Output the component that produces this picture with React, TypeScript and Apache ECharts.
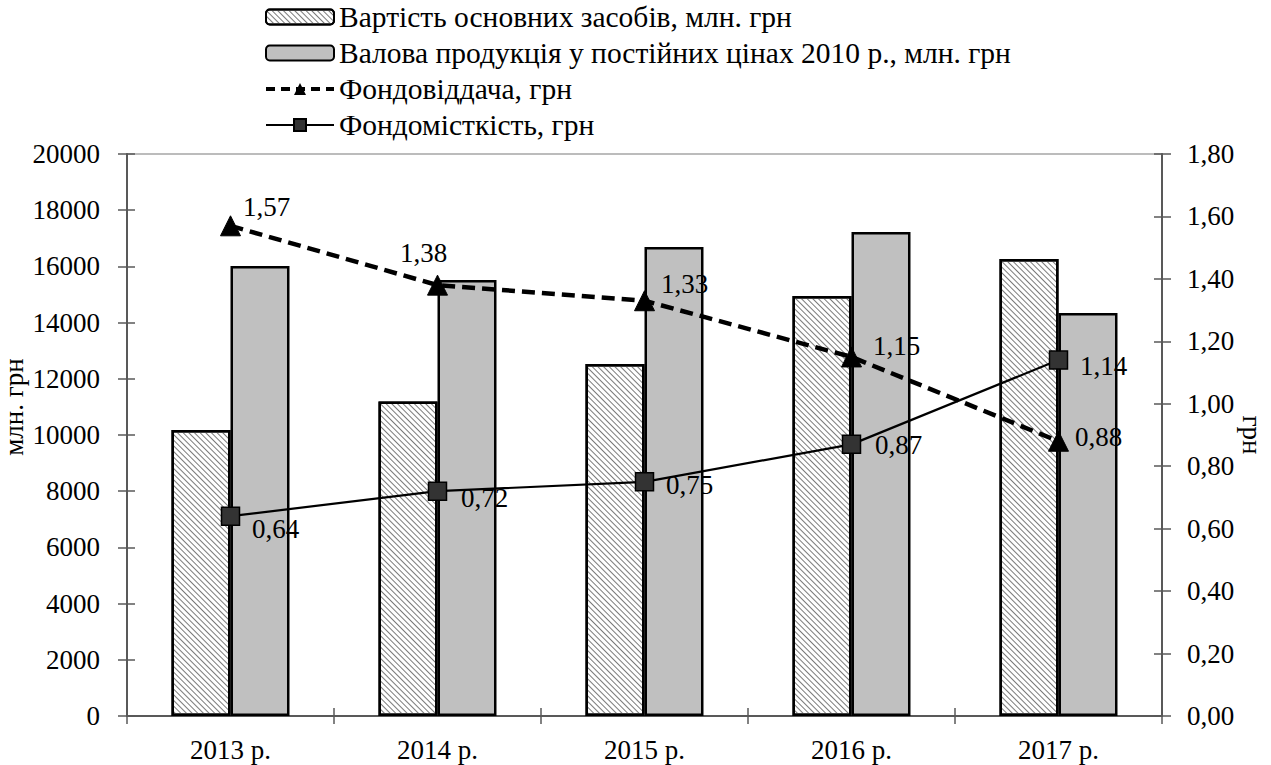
import React, { useEffect, useRef } from "react";
import * as echarts from "echarts";

const categories = ["2013 р.", "2014 р.", "2015 р.", "2016 р.", "2017 р."];
const fixedAssets = [10180, 11190, 12530, 14950, 16260];
const grossOutput = [16010, 15520, 16690, 17220, 14340];
const assetReturn = [1.57, 1.38, 1.33, 1.15, 0.88];
const capitalIntensity = [0.64, 0.72, 0.75, 0.87, 1.14];

const seriesNames = [
  "Вартість основних засобів, млн. грн",
  "Валова продукція у постійних цінах 2010 р., млн. грн",
  "Фондовіддача, грн",
  "Фондомісткість, грн",
];
const leftAxisName = "млн. грн";
const rightAxisName = "грн";

// label placement (style only)
const returnLabelOffsets = [
  [36, -19],
  [-14, -32],
  [40, -17],
  [45, -11],
  [40, -4],
];
const intensityLabelOffsets = [
  [45, 13],
  [47, 7],
  [45, 3],
  [47, 1],
  [45, 6],
];

const FONT = "Liberation Serif";
const fmt = (v: number) => v.toFixed(2).replace(".", ",");

export default function App() {
  const ref = useRef<HTMLDivElement>(null);
  useEffect(() => {
    if (!ref.current) return;
    const chart = echarts.init(ref.current, undefined, { renderer: "svg" });
    const axisColor = "#595959";
    const tickFont = { fontFamily: FONT, fontSize: 27, color: "#000" };
    const baseY = (pos: "left" | "right") => ({
      type: "value" as const,
      position: pos,
      splitLine: { show: false },
    });
    const labelCommon = {
      show: true,
      position: "inside",
      formatter: (p: any) => fmt(p.value),
      fontFamily: FONT,
      fontSize: 27,
      color: "#000",
    };
    chart.setOption({
      animation: false,
      backgroundColor: "#fff",
      textStyle: { fontFamily: FONT },
      grid: {
        left: 127,
        right: 109,
        top: 154,
        bottom: 49,
        outerBoundsMode: "none",
        containLabel: false,
        show: true,
        borderColor: "#a6a6a6",
        borderWidth: 1.5,
        backgroundColor: "transparent",
      },
      legend: {
        orient: "vertical",
        left: 264,
        top: 2,
        padding: 0,
        itemWidth: 68,
        itemHeight: 15,
        itemGap: 6,
        textStyle: { fontFamily: FONT, fontSize: 29.5, color: "#000", lineHeight: 27 },
        data: [
          { name: seriesNames[0] },
          { name: seriesNames[1] },
          { name: seriesNames[2], lineStyle: { width: 4, type: [9, 6], color: "#000" } },
          { name: seriesNames[3], lineStyle: { width: 2.2, color: "#000" } },
        ],
      },
      xAxis: [
        {
          type: "category",
          data: categories,
          position: "bottom",
          axisLine: { lineStyle: { color: axisColor, width: 2 } },
          axisTick: { show: true, inside: false, length: 8, lineStyle: { color: axisColor, width: 1.5 } },
          axisLabel: { ...tickFont, margin: 20 },
        },
        {
          type: "category",
          data: categories,
          position: "bottom",
          axisLine: { show: false },
          axisTick: { show: true, inside: true, length: 8, lineStyle: { color: axisColor, width: 1.5 } },
          axisLabel: { show: false },
        },
      ],
      yAxis: [
        {
          ...baseY("left"),
          min: 0,
          max: 20000,
          interval: 2000,
          name: leftAxisName,
          nameLocation: "middle",
          nameGap: 100,
          nameRotate: 90,
          nameMoveOverlap: false,
          nameTextStyle: { fontFamily: FONT, fontSize: 27, color: "#000", padding: [0, 0, 0, 56] },
          axisLine: { show: true, lineStyle: { color: axisColor, width: 2 } },
          axisTick: { show: true, inside: false, length: 9, lineStyle: { color: axisColor, width: 1.5 } },
          axisLabel: { ...tickFont, margin: 27, formatter: (v: number) => String(v) },
        },
        {
          ...baseY("right"),
          min: 0,
          max: 1.8,
          interval: 0.2,
          name: rightAxisName,
          nameLocation: "middle",
          nameGap: 76,
          nameRotate: -90,
          nameMoveOverlap: false,
          nameTextStyle: { fontFamily: FONT, fontSize: 27, color: "#000" },
          axisLine: { show: true, lineStyle: { color: axisColor, width: 2 } },
          axisTick: { show: true, inside: false, length: 9, lineStyle: { color: axisColor, width: 1.5 } },
          axisLabel: { ...tickFont, margin: 25, formatter: (v: number) => fmt(v) },
        },
        {
          ...baseY("left"),
          min: 0,
          max: 20000,
          interval: 2000,
          offset: 0,
          axisLine: { show: false },
          axisTick: { show: true, inside: true, length: 8, lineStyle: { color: axisColor, width: 1.5 } },
          axisLabel: { show: false },
        },
        {
          ...baseY("right"),
          min: 0,
          max: 1.8,
          interval: 0.2,
          offset: 0,
          axisLine: { show: false },
          axisTick: { show: true, inside: true, length: 8, lineStyle: { color: axisColor, width: 1.5 } },
          axisLabel: { show: false },
        },
      ],
      series: [
        {
          name: seriesNames[0],
          type: "bar",
          xAxisIndex: 0,
          yAxisIndex: 0,
          data: fixedAssets,
          barGap: "0%",
          barCategoryGap: "43%",
          itemStyle: {
            color: "#ffffff",
            borderColor: "#000",
            borderWidth: 2.5,
            decal: {
              symbol: "rect",
              symbolSize: 1,
              dashArrayX: [1, 0],
              dashArrayY: [1, 2.4],
              rotation: Math.PI / 4,
              color: "#7a7a7a",
              backgroundColor: "#ffffff",
            },
          },
        },
        {
          name: seriesNames[1],
          type: "bar",
          xAxisIndex: 0,
          yAxisIndex: 0,
          data: grossOutput,
          barGap: "0%",
          barCategoryGap: "43%",
          itemStyle: { color: "#c0c0c0", borderColor: "#000", borderWidth: 2.5 },
        },
        {
          name: seriesNames[2],
          type: "line",
          xAxisIndex: 0,
          yAxisIndex: 1,
          data: assetReturn.map((v, i) => ({
            value: v,
            label: { offset: returnLabelOffsets[i] },
          })),
          symbol: "triangle",
          symbolSize: 20,
          itemStyle: { color: "#000", borderColor: "#000" },
          lineStyle: { color: "#000", width: 4.5, type: [13, 7] },
          label: labelCommon,
          z: 3,
        },
        {
          name: seriesNames[3],
          type: "line",
          xAxisIndex: 0,
          yAxisIndex: 1,
          data: capitalIntensity.map((v, i) => ({
            value: v,
            label: { offset: intensityLabelOffsets[i] },
          })),
          symbol: "rect",
          symbolSize: 18,
          itemStyle: { color: "#333333", borderColor: "#000", borderWidth: 1.5 },
          lineStyle: { color: "#000", width: 2.2 },
          label: labelCommon,
          z: 4,
        },
      ],
    });
    return () => chart.dispose();
  }, []);
  return (
    <div
      ref={ref}
      style={{ position: "fixed", left: 0, top: 0, width: 1271, height: 765, background: "#fff" }}
    />
  );
}
